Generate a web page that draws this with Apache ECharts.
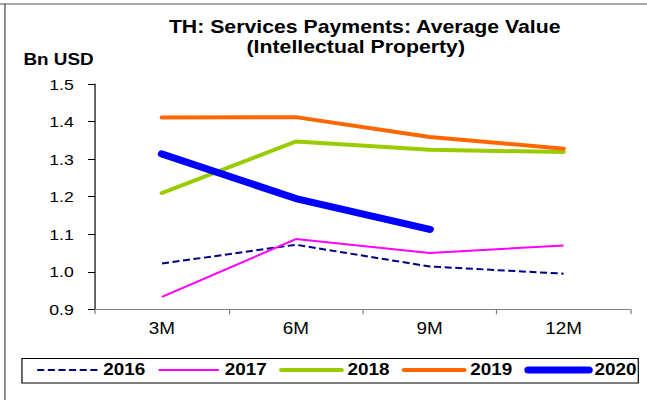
<!DOCTYPE html>
<html>
<head>
<meta charset="utf-8">
<script src="https://cdn.jsdelivr.net/npm/echarts@6/dist/echarts.min.js"></script>
<style>
  html, body { margin: 0; padding: 0; background: #fff; overflow: hidden; }
  /* The chart is laid out on a narrower canvas and widened to the window width */
  #chart { width: 548px; height: 400px; transform: scaleX(1.1807); transform-origin: 0 0; }
</style>
</head>
<body>
<div id="chart"></div>
<script>
// Quarter-to-date periods
const categories = ['3M', '6M', '9M', '12M'];

// Average value of services payments for intellectual property, Bn USD
const y2016 = [1.022, 1.072, 1.014, 0.995];
const y2017 = [0.933, 1.087, 1.050, 1.070];
const y2018 = [1.210, 1.347, 1.325, 1.319];
const y2019 = [1.411, 1.412, 1.359, 1.328];
const y2020 = [1.314, 1.195, 1.113];

const yTicks = [0.9, 1.0, 1.1, 1.2, 1.3, 1.4, 1.5];

const FONT = "'Liberation Sans', Arial, sans-serif";

const chart = echarts.init(document.getElementById('chart'), null, { renderer: 'svg' });

function lineSeries(name, data, color, width, type, cap) {
  return {
    name: name,
    type: 'line',
    data: data,
    symbol: 'none',
    smooth: false,
    silent: true,
    lineStyle: { color: color, width: width, type: type, cap: cap },
    itemStyle: { color: color }
  };
}

chart.setOption({
  animation: false,
  backgroundColor: '#fff',
  grid: { left: 80.5, right: 14, top: 84.1, bottom: 90.7, containLabel: false },
  xAxis: {
    type: 'category',
    data: categories,
    boundaryGap: true,
    axisLine: { lineStyle: { color: '#808080', width: 1 } },
    axisTick: { show: true, length: 5, alignWithLabel: false, lineStyle: { color: '#808080' } },
    axisLabel: { color: '#000', fontFamily: FONT, fontSize: 16, margin: 11 },
    splitLine: { show: false }
  },
  yAxis: {
    type: 'value',
    min: yTicks[0],
    max: yTicks[yTicks.length - 1],
    interval: 0.1,
    axisLine: { show: true, lineStyle: { color: '#000', width: 1 } },
    axisTick: { show: true, length: 6, lineStyle: { color: '#000' } },
    axisLabel: {
      color: '#000', fontFamily: FONT, fontSize: 15, margin: 18,
      formatter: v => v.toFixed(1)
    },
    splitLine: { show: false }
  },
  legend: {
    left: 30.5,
    top: 362,
    padding: 0,
    itemWidth: 51,
    itemHeight: 14,
    itemGap: 10.3,
    selectedMode: false,
    itemStyle: { opacity: 0, borderWidth: 0 },
    lineStyle: { width: 'inherit' },
    textStyle: { color: '#000', fontFamily: FONT, fontSize: 16, fontWeight: 'bold' },
    data: ['2016', '2017', '2018', '2019', '2020']
  },
  graphic: [
    { type: 'line', shape: { x1: 0, y1: 4, x2: 548, y2: 4 }, style: { stroke: '#a6a6a6', lineWidth: 2 }, silent: true },
    { type: 'line', shape: { x1: 4.2, y1: 4, x2: 4.2, y2: 400 }, style: { stroke: '#404040', lineWidth: 1 }, silent: true },
    { type: 'rect', shape: { x: 18.6, y: 358.5, width: 522, height: 24.5 }, style: { fill: 'none', stroke: '#000', lineWidth: 1 }, silent: true },
    {
      type: 'text', x: 308.9, y: 27, silent: true,
      style: { text: 'TH: Services Payments: Average Value', fill: '#000', font: "bold 18px 'Liberation Sans', Arial, sans-serif", align: 'center', verticalAlign: 'middle' }
    },
    {
      type: 'text', x: 301.3, y: 47, silent: true,
      style: { text: '(Intellectual Property)', fill: '#000', font: "bold 18px 'Liberation Sans', Arial, sans-serif", align: 'center', verticalAlign: 'middle' }
    },
    {
      type: 'text', x: 49.6, y: 59.5, silent: true,
      style: { text: 'Bn USD', fill: '#000', font: "bold 16px 'Liberation Sans', Arial, sans-serif", align: 'center', verticalAlign: 'middle' }
    }
  ],
  series: [
    lineSeries('2016', y2016, '#000080', 2, [6, 3], 'butt'),
    lineSeries('2017', y2017, '#ff00ff', 2, 'solid', 'butt'),
    lineSeries('2018', y2018, '#99cc00', 4, 'solid', 'round'),
    lineSeries('2019', y2019, '#ff6600', 4, 'solid', 'round'),
    lineSeries('2020', y2020, '#0000ff', 7, 'solid', 'round')
  ]
});
</script>
</body>
</html>
